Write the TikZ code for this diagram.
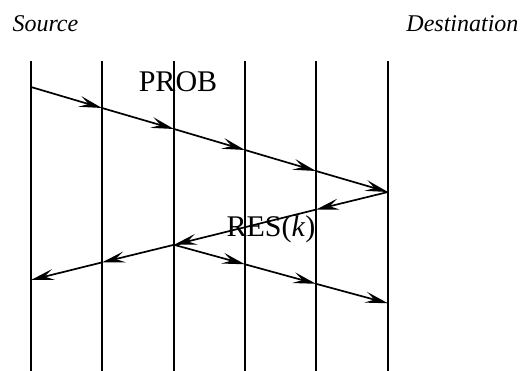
\documentclass[tikz,border=0pt]{standalone}
\usepackage{fontspec}
\setmainfont{Liberation Serif}
\usetikzlibrary{arrows.meta}
\begin{document}
\begin{tikzpicture}[x=1pt,y=-1pt,line join=round,
	>={Stealth[length=23pt,width=11pt,inset=9pt]},
	msg/.style={->,line width=1.7pt},
	lane/.style={line width=1.8pt}]
	\useasboundingbox (0,0) rectangle (530,371);
	% the six lanes and the points where the messages meet them
	\foreach \i/\x in {0/31,1/102,2/174,3/245,4/316,5/388} {
		\draw[lane] (\x,61) -- (\x,371);
		\coordinate (p\i) at (\x,87+21*\i);
		\coordinate (r\i) at (\x,280-17.6*\i);
		\coordinate (q\i) at (\x,205.8+19.5*\i);
	}
	\node[anchor=base west,font=\fontsize{24}{28}\selectfont\itshape] (src) at (9,32) {Source};
	\node[anchor=base east,font=\fontsize{24}{28}\selectfont\itshape] (dst) at (522,32) {Destination};
	% probe towards the destination
	\draw[msg] (p0) -- (p1);
	\draw[msg] (p1) -- (p2);
	\draw[msg] (p2) -- (p3);
	\draw[msg] (p3) -- (p4);
	\draw[msg] (p4) -- (p5);
	% response back
	\draw[msg] (r5) -- (r4);
	\draw[msg] (r4) -- (r2);
	\draw[msg] (r2) -- (r1);
	\draw[msg] (r1) -- (r0);
	% forwarded again
	\draw[msg] (r2) -- (q3);
	\draw[msg] (q3) -- (q4);
	\draw[msg] (q4) -- (q5);
	\node[anchor=base,font=\fontsize{30}{34}\selectfont] (prob) at (178,92) {PROB};
	\node[anchor=base,font=\fontsize{30}{34}\selectfont] (res) at (271,237) {RES(\textit{k})};
\end{tikzpicture}
\end{document}
